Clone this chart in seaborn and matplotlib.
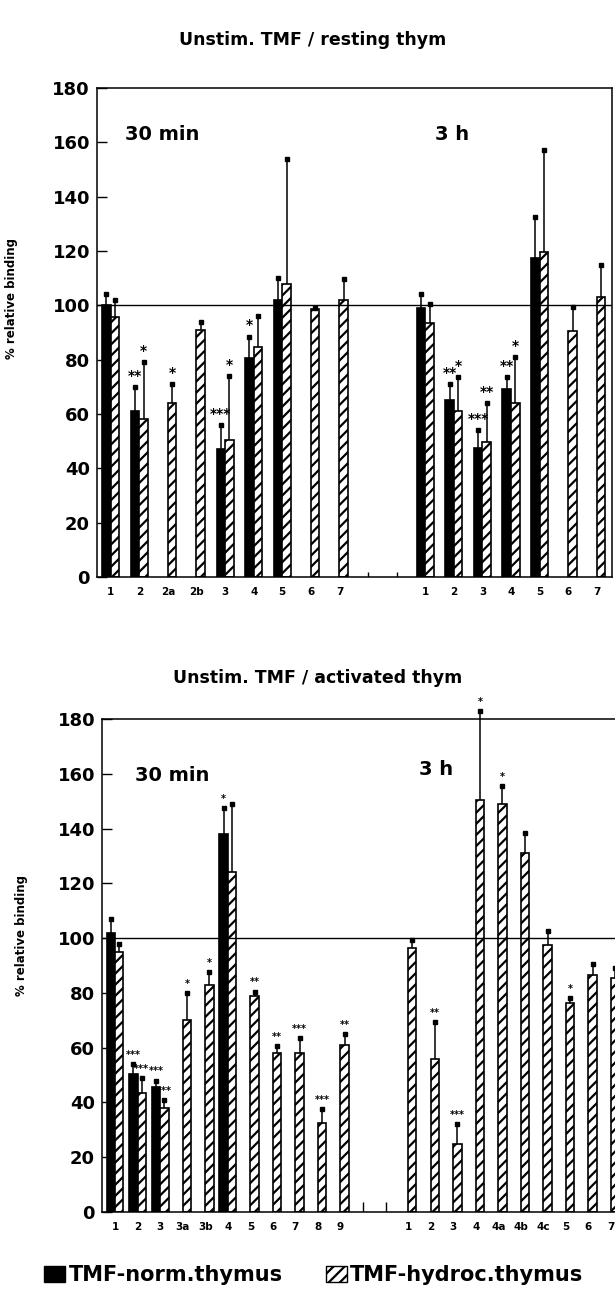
import numpy as np
import pandas as pd
import seaborn as sns
import matplotlib.pyplot as plt
from matplotlib.patches import Patch

sns.set_style("ticks")
plt.rcParams['font.family'] = ['DejaVu Sans']
plt.rcParams['hatch.linewidth'] = 1.6
plt.rcParams['hatch.color'] = 'black'
plt.rcParams['text.color'] = 'black'
plt.rcParams['axes.labelcolor'] = 'black'
plt.rcParams['axes.edgecolor'] = 'black'
plt.rcParams['xtick.color'] = 'black'
plt.rcParams['ytick.color'] = 'black'

nan = np.nan

# ---- upper panel: unstim. TMF / resting thymocytes ----
top_labels = ["1", "2", "2a", "2b", "3", "4", "5", "6", "7", "", "",
              "1", "2", "3", "4", "5", "6", "7"]
top_gaps = [9, 10]
top_norm = [100, 61, nan, nan, 47, 80.5, 102, nan, nan, nan, nan,
            99, 65, 47.5, 69, 117.5, nan, nan]
top_norm_err = [104, 70, nan, nan, 56, 88.5, 110, nan, nan, nan, nan,
                104, 71, 54, 73.5, 132.5, nan, nan]
top_hyd = [95.5, 58, 64, 91, 50.5, 84.5, 108, 98.5, 102, nan, nan,
           93.5, 61, 49.5, 64, 119.5, 90.5, 103]
top_hyd_err = [102, 79, 71, 94, 74, 96, 154, 99, 109.5, nan, nan,
               100.5, 73.5, 64, 81, 157, 99.5, 115]
top_norm_stars = ["", "**", "", "", "***", "*", "", "", "", "", "",
                  "", "**", "***", "**", "", "", ""]
top_hyd_stars = ["", "*", "*", "", "*", "", "", "", "", "", "",
                 "", "*", "**", "*", "", "", ""]

# ---- lower panel: unstim. TMF / activated thymocytes ----
bot_labels = ["1", "2", "3", "3a", "3b", "4", "5", "6", "7", "8", "9", "", "",
              "1", "2", "3", "4", "4a", "4b", "4c", "5", "6", "7"]
bot_gaps = [11, 12]
bot_norm = [102, 50.5, 45.5, nan, nan, 138, nan, nan, nan, nan, nan, nan, nan,
            nan, nan, nan, nan, nan, nan, nan, nan, nan, nan]
bot_norm_err = [107, 54, 48, nan, nan, 147.5, nan, nan, nan, nan, nan, nan, nan,
                nan, nan, nan, nan, nan, nan, nan, nan, nan, nan]
bot_hyd = [95, 43.5, 38, 70, 83, 124, 79, 58, 58, 32.5, 61, nan, nan,
           96.5, 56, 25, 150.5, 149, 131, 97.5, 76.5, 86.5, 85.5]
bot_hyd_err = [98, 49, 41, 80, 87.5, 149, 80.5, 60.5, 63.5, 37.5, 65, nan, nan,
               99.5, 69.5, 32, 183, 155.5, 138.5, 102.5, 78, 90.5, 89]
bot_norm_stars = ["", "***", "***", "", "", "*", "", "", "", "", "", "", "",
                  "", "", "", "", "", "", "", "", "", ""]
bot_hyd_stars = ["", "***", "***", "*", "*", "", "**", "**", "***", "***", "**", "", "",
                 "", "**", "***", "*", "*", "", "", "*", "", ""]


def long_df(norm, hyd):
    rows = []
    for i, (a, b) in enumerate(zip(norm, hyd)):
        if not np.isnan(a):
            rows.append((str(i), "norm", a))
        if not np.isnan(b):
            rows.append((str(i), "hydroc", b))
    return pd.DataFrame(rows, columns=["slot", "series", "value"])


def panel(ax, labels, gaps, norm, norm_err, hyd, hyd_err, nstars, hstars,
          width, star_fs, gap_h, xlim, title_pos):
    n = len(labels)
    df = long_df(norm, hyd)
    sns.barplot(data=df, x="slot", y="value", hue="series",
                order=[str(i) for i in range(n)], hue_order=["norm", "hydroc"],
                palette={"norm": "black", "hydroc": "white"},
                width=width, dodge=True, edgecolor="black", linewidth=1.2,
                errorbar=None, legend=False, ax=ax)
    for p in ax.patches:
        if p.get_facecolor()[0] > 0.5:
            p.set_hatch("///")

    off = width / 4
    for vals, errs, stars, dx in [(norm, norm_err, nstars, -off),
                                  (hyd, hyd_err, hstars, off)]:
        v = np.array(vals, float)
        e = np.array(errs, float)
        ok = ~np.isnan(v)
        x = np.arange(n)[ok] + dx
        ax.errorbar(x, v[ok], yerr=[np.zeros(ok.sum()), e[ok] - v[ok]],
                    fmt="none", ecolor="black", elinewidth=1.1, capsize=0,
                    clip_on=False, zorder=3)
        ax.plot(x, e[ok], "s", color="black", ms=3.2, clip_on=False, zorder=4)
        for i in np.where(ok)[0]:
            if stars[i]:
                ax.text(i + dx, e[i] + 1.5, stars[i], ha="center", va="bottom",
                        fontsize=star_fs, fontweight="bold", clip_on=False)

    ax.vlines(gaps, 0, gap_h, color="black", lw=1)
    ax.axhline(100, color="black", lw=1)
    ax.set_xlim(*xlim)
    ax.set_ylim(0, 180)
    ax.set_yticks(range(0, 181, 20))
    ax.set_xticks(range(n))
    ax.set_xticklabels(labels, fontsize=7.5, fontweight="bold")
    ax.tick_params(axis="x", length=0, pad=7)
    ax.tick_params(axis="y", direction="in", length=7, width=1, pad=5,
                   labelsize=13)
    for t in ax.get_yticklabels():
        t.set_fontweight("bold")
    for s in ax.spines.values():
        s.set_visible(True)
        s.set_linewidth(1.1)
    ax.set_xlabel("")
    ax.set_ylabel("% relative binding", fontsize=8.5, fontweight="bold")
    (x1, y1), (x2, y2) = title_pos
    ax.text(x1, y1, "30 min", fontsize=14, fontweight="bold", va="center")
    ax.text(x2, y2, "3 h", fontsize=14, fontweight="bold", va="center")


fig = plt.figure(figsize=(6.15, 12.89), dpi=100)
ax1 = fig.add_axes([0.1577, 0.5524, 0.8374, 0.3794])
ax2 = fig.add_axes([0.1659, 0.0597, 0.8715, 0.3825])

panel(ax1, top_labels, top_gaps, top_norm, top_norm_err, top_hyd, top_hyd_err,
      top_norm_stars, top_hyd_stars, 0.6, 10, 2, (-0.48, 17.53),
      ((0.5, 163), (11.34, 163)))
panel(ax2, bot_labels, bot_gaps, bot_norm, bot_norm_err, bot_hyd, bot_hyd_err,
      bot_norm_stars, bot_hyd_stars, 0.74, 7, 3.5, (-0.58, 23.2),
      ((0.89, 159.5), (13.5, 161.4)))

ax1.yaxis.set_label_coords(-0.153, 0.57)
ax2.yaxis.set_label_coords(-0.138, 0.56)

fig.text(0.508, 0.969, "Unstim. TMF / resting thym", ha="center", va="center",
         fontsize=12.5, fontweight="bold")
fig.text(0.517, 0.474, "Unstim. TMF / activated thym", ha="center", va="center",
         fontsize=12.5, fontweight="bold")

handles = [Patch(facecolor="black", edgecolor="black"),
           Patch(facecolor="white", edgecolor="black", hatch="///")]
fig.legend(handles, ["TMF-norm.thymus", "TMF-hydroc.thymus"], ncol=2,
           loc="center left", bbox_to_anchor=(0.0553, 0.0105), frameon=False,
           borderpad=0, prop={"size": 15, "weight": "bold"}, handlelength=1.0,
           handleheight=0.8, handletextpad=0.15, columnspacing=2.1)

fig.savefig("out.png", dpi=100)
